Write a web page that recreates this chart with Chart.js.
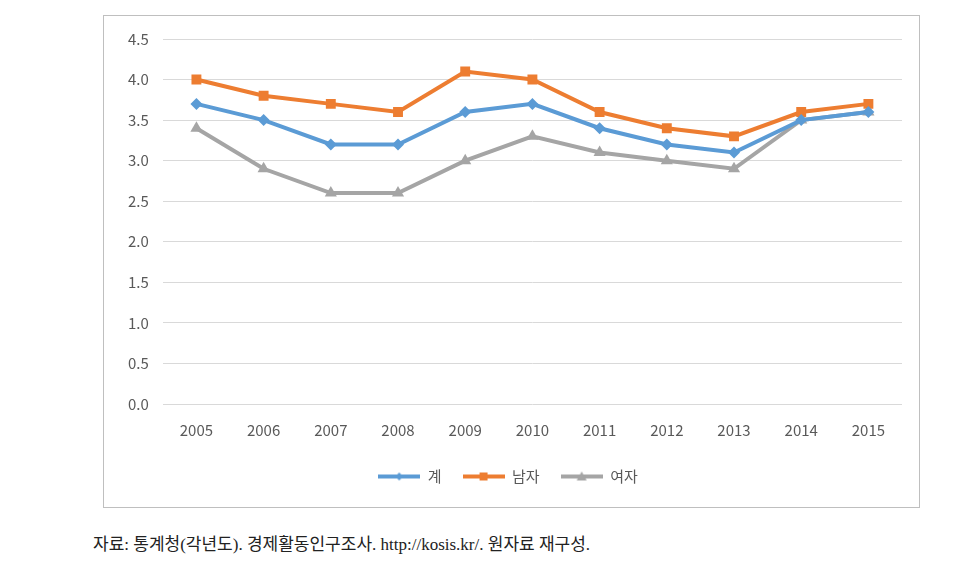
<!DOCTYPE html>
<html>
<head>
<meta charset="utf-8">
<script src="https://cdn.jsdelivr.net/npm/chart.js@4.4.0/dist/chart.umd.min.js"></script>
<style>
  body { margin: 0; background: #fff; width: 967px; height: 567px; position: relative; }
  #box { position: absolute; left: 103px; top: 15px; width: 815px; height: 491px; border: 1px solid #bfbfbf; }
  #caption { position: absolute; left: 93px; top: 530px; font-family: "Liberation Serif", "Noto Sans CJK KR", serif; font-size: 17px; color: #222; white-space: pre; }
</style>
</head>
<body>
<div id="box"><canvas id="chart" width="815" height="491"></canvas></div>
<div id="caption">자료: 통계청(각년도). 경제활동인구조사. http://kosis.kr/. 원자료 재구성.</div>
<script>
var years = ['2005','2006','2007','2008','2009','2010','2011','2012','2013','2014','2015'];
var total = [3.7, 3.5, 3.2, 3.2, 3.6, 3.7, 3.4, 3.2, 3.1, 3.5, 3.6];
var male = [4.0, 3.8, 3.7, 3.6, 4.1, 4.0, 3.6, 3.4, 3.3, 3.6, 3.7];
var female = [3.4, 2.9, 2.6, 2.6, 3.0, 3.3, 3.1, 3.0, 2.9, 3.5, 3.6];
var seriesNames = ['계', '남자', '여자'];
var colors = ['#5B9BD5', '#ED7D31', '#A5A5A5'];

var font = '"Noto Sans CJK KR", "Open Sans", sans-serif';

// small legend swatch: line with marker in the middle
function swatch(color, style) {
	var c = document.createElement('canvas');
	c.width = 42; c.height = 14;
	var g = c.getContext('2d');
	g.strokeStyle = color; g.fillStyle = color; g.lineWidth = 4;
	g.beginPath(); g.moveTo(0, 7); g.lineTo(42, 7); g.stroke();
	g.beginPath();
	if (style == 'rectRot') {
		g.moveTo(21, 3); g.lineTo(25, 7); g.lineTo(21, 11); g.lineTo(17, 7);
	} else if (style == 'rect') {
		g.rect(17, 3, 8, 8);
	} else {
		g.moveTo(21, 2); g.lineTo(26, 11); g.lineTo(16, 11);
	}
	g.closePath(); g.fill();
	return c;
}

var styles = ['rectRot', 'rect', 'triangle'];
var radii = [6, 7, 7];
var values = [total, male, female];

var datasets = [];
for (var i = 0; i < 3; i++) {
	datasets.push({
		label: seriesNames[i],
		data: values[i],
		borderColor: colors[i],
		backgroundColor: colors[i],
		borderWidth: 4,
		pointStyle: styles[i],
		pointRadius: radii[i],
		pointBorderWidth: 0,
		tension: 0
	});
}

var ctx = document.getElementById('chart').getContext('2d');
new Chart(ctx, {
	type: 'line',
	data: { labels: years, datasets: datasets },
	options: {
		responsive: false,
		animation: false,
		layout: { padding: { top: 17, right: 17, left: 10, bottom: 13 } },
		scales: {
			x: {
				offset: true,
				grid: { display: false },
				border: { display: false },
				ticks: { color: '#595959', font: { family: font, size: 15 }, padding: 9 }
			},
			y: {
				min: 0, max: 4.5,
				grid: { color: '#D9D9D9', lineWidth: 1, drawTicks: false },
				border: { display: false },
				ticks: {
					stepSize: 0.5, color: '#595959', padding: 14,
					font: { family: font, size: 15 },
					callback: function(v) { return v.toFixed(1); }
				}
			}
		},
		plugins: {
			legend: {
				position: 'bottom',
				labels: {
					usePointStyle: true,
					pointStyleWidth: 42,
					boxHeight: 14,
					color: '#595959',
					font: { family: font, size: 15 },
					padding: 21,
					generateLabels: function(chart) {
						return chart.data.datasets.map(function(ds, i) {
							return { text: ds.label, pointStyle: swatch(colors[i], styles[i]), fontColor: '#595959', datasetIndex: i, lineWidth: 0, strokeStyle: 'transparent', fillStyle: colors[i] };
						});
					}
				}
			},
			tooltip: { enabled: false }
		}
	}
});
</script>
</body>
</html>
